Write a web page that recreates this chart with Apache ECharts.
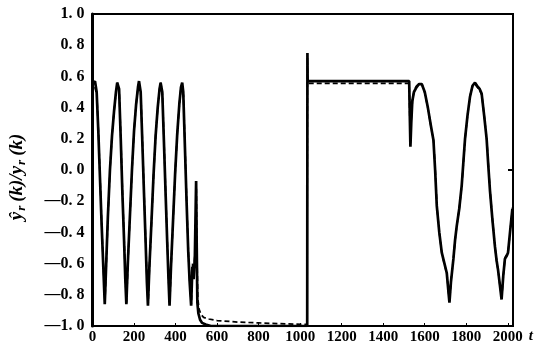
<!DOCTYPE html>
<html>
<head>
<meta charset="utf-8">
<script src="https://cdn.jsdelivr.net/npm/echarts@6/dist/echarts.min.js"></script>
<style>
html,body{margin:0;padding:0;background:#fff;}
#c{width:537px;height:346px;}
</style>
</head>
<body>
<div id="c"></div>
<script>
// x-axis ticks
var xTicks = [0, 200, 400, 600, 800, 1000, 1200, 1400, 1600, 1800, 2000];
var yTicks = [-1.0, -0.8, -0.6, -0.4, -0.2, 0.0, 0.2, 0.4, 0.6, 0.8, 1.0];

// actual output y_r(k) (solid)
var tActual = [0,5,12,20,28,36,44,52,59,66,74,84,94,104,113,119,123,128,136,144,152,158,163,170,180,190,200,210,219,224,227,232,240,248,256,262,267,274,284,294,304,314,323,328,331,336,344,352,360,366,371,378,388,398,408,418,426,432,437,445,453,461,468,475,481,487,493,499,502,505,510,518,528,545,570,600,1034,1035,1036,1040,1525,1528,1531,1535,1540,1548,1560,1572,1586,1600,1615,1630,1642,1650,1658,1670,1682,1695,1706,1714,1719,1726,1738,1746,1754,1766,1778,1786,1794,1806,1818,1830,1842,1852,1864,1874,1886,1898,1906,1914,1926,1938,1946,1953,1962,1970,1978,1986,1995,2001,2012,2022];
var yActual = [0.55,0.56,0.57,0.50,0.25,-0.05,-0.35,-0.62,-0.86,-0.60,-0.30,0.00,0.22,0.38,0.50,0.56,0.57,0.52,0.20,-0.15,-0.45,-0.70,-0.86,-0.60,-0.30,0.00,0.25,0.42,0.53,0.57,0.57,0.50,0.18,-0.15,-0.47,-0.72,-0.87,-0.62,-0.33,-0.03,0.22,0.40,0.52,0.56,0.57,0.50,0.18,-0.15,-0.47,-0.70,-0.87,-0.62,-0.32,-0.02,0.23,0.42,0.53,0.56,0.50,0.15,-0.20,-0.52,-0.72,-0.87,-0.62,-0.70,-0.55,-0.07,-0.50,-0.85,-0.92,-0.96,-0.98,-0.99,-1.0,-1.0,-1.0,0.75,0.57,0.57,0.57,0.35,0.15,0.30,0.44,0.50,0.53,0.55,0.55,0.50,0.40,0.28,0.19,0.00,-0.23,-0.40,-0.53,-0.60,-0.66,-0.78,-0.85,-0.72,-0.57,-0.45,-0.36,-0.25,-0.10,0.05,0.20,0.35,0.47,0.54,0.56,0.54,0.52,0.49,0.35,0.20,0.03,-0.13,-0.32,-0.49,-0.58,-0.64,-0.74,-0.83,-0.68,-0.57,-0.55,-0.53,-0.38,-0.25];

// estimated output ŷ_r(k) (dashed)
var tEst = [0,6,13,21,29,37,45,53,60,67,75,85,95,105,114,120,124,129,137,145,153,159,164,171,181,191,201,211,220,225,228,233,241,249,257,263,268,275,285,295,305,315,324,329,332,337,345,353,361,367,372,379,389,399,409,419,427,433,438,446,454,462,469,476,482,488,494,500,503,507,513,522,535,560,600,700,800,900,1033,1035,1037,1525,1528,1531,1535,1541,1549,1561,1573,1587,1601,1616,1631,1643,1651,1659,1671,1683,1696,1707,1715,1720,1727,1739,1747,1755,1767,1779,1787,1795,1807,1819,1831,1843,1853,1865,1875,1887,1899,1907,1915,1927,1939,1947,1954,1963,1971,1979,1987,1996,2002,2013,2023];
var yEst = [0.54,0.56,0.56,0.48,0.23,-0.07,-0.37,-0.64,-0.85,-0.58,-0.28,0.02,0.24,0.39,0.51,0.56,0.56,0.50,0.18,-0.17,-0.47,-0.72,-0.85,-0.58,-0.28,0.02,0.27,0.43,0.54,0.56,0.56,0.48,0.16,-0.17,-0.49,-0.73,-0.86,-0.60,-0.31,-0.01,0.24,0.41,0.53,0.56,0.56,0.48,0.16,-0.17,-0.49,-0.72,-0.86,-0.60,-0.30,0.00,0.25,0.43,0.54,0.55,0.48,0.13,-0.22,-0.54,-0.74,-0.86,-0.60,-0.68,-0.52,-0.12,-0.55,-0.82,-0.89,-0.925,-0.945,-0.955,-0.965,-0.975,-0.98,-0.985,-0.99,0.72,0.555,0.555,0.33,0.17,0.32,0.45,0.51,0.54,0.55,0.55,0.49,0.39,0.27,0.18,-0.01,-0.24,-0.41,-0.54,-0.61,-0.67,-0.79,-0.84,-0.70,-0.56,-0.44,-0.35,-0.24,-0.09,0.06,0.21,0.36,0.48,0.54,0.55,0.53,0.51,0.48,0.34,0.19,0.02,-0.14,-0.33,-0.50,-0.59,-0.65,-0.75,-0.82,-0.67,-0.56,-0.54,-0.52,-0.37,-0.24];

function pairs(t, y) { return t.map(function (v, i) { return [v, y[i]]; }); }

var FONT = '"Liberation Serif", "DejaVu Serif", serif';
var chart = echarts.init(document.getElementById('c'), null, {renderer: 'canvas'});
chart.setOption({
  animation: false,
  backgroundColor: '#fff',
  grid: {left: 91, right: 24, top: 14, bottom: 20, show: true, borderColor: '#000', borderWidth: 2},
  xAxis: {
    type: 'value', min: 0, max: 2025, interval: 200,
    name: 't', nameLocation: 'end', nameGap: 14,
    nameTextStyle: {fontFamily: FONT, fontStyle: 'italic', fontWeight: 'bold', fontSize: 15, color: '#000', verticalAlign: 'top', padding: [3, 0, 0, 0]},
    axisLine: {show: true, onZero: false, lineStyle: {color: '#000', width: 2}},
    axisTick: {show: true, inside: true, length: 3, lineStyle: {color: '#000'}},
    splitLine: {show: false},
    axisLabel: {
      color: '#000', fontFamily: FONT, fontWeight: 'bold', fontSize: 15, margin: 4,
      formatter: function (v) { return xTicks.indexOf(v) >= 0 ? String(v) : ''; }
    }
  },
  yAxis: [{
    type: 'value', min: -1, max: 1, interval: 0.2,
    name: '{a|ŷ}{s|r}{a|(k)/y}{s|r}{a|(k)}', nameLocation: 'middle', nameGap: 64, nameRotate: 90,
    nameTextStyle: {
      padding: [0, 0, 0, -14],
      rich: {
        a: {fontFamily: FONT, fontStyle: 'italic', fontWeight: 'bold', fontSize: 19, color: '#000', padding: [0, 1, 0, 1]},
        s: {fontFamily: FONT, fontStyle: 'italic', fontWeight: 'bold', fontSize: 13, color: '#000', padding: [9, 3, 0, 0]}
      }
    },
    axisLine: {show: true, onZero: false, lineStyle: {color: '#000', width: 3}},
    axisTick: {show: false},
    splitLine: {show: false},
    axisLabel: {
      color: '#000', fontFamily: FONT, fontWeight: 'bold', fontSize: 16, margin: 8,
      formatter: function (v) {
        var r = Math.round(v * 10) / 10;
        var s = Math.abs(r).toFixed(1).replace('.', '. ');
        return (r < 0 ? '—' : '') + s;
      }
    }
  }, {
    type: 'value', min: -1, max: 1, interval: 1, position: 'right',
    axisLine: {show: true, onZero: false, lineStyle: {color: '#000', width: 2}},
    axisTick: {show: true, inside: true, length: 5, lineStyle: {color: '#000', width: 2}},
    axisLabel: {show: false}, splitLine: {show: false}
  }],
  series: [{
    type: 'line', name: 'y', data: pairs(tActual, yActual), showSymbol: false,
    lineStyle: {color: '#000', width: 2.7}, z: 3
  }, {
    type: 'line', name: 'yhat', data: pairs(tEst, yEst), showSymbol: false,
    lineStyle: {color: '#000', width: 1.7, type: [5, 3]}, z: 2
  }]
});
</script>
</body>
</html>
